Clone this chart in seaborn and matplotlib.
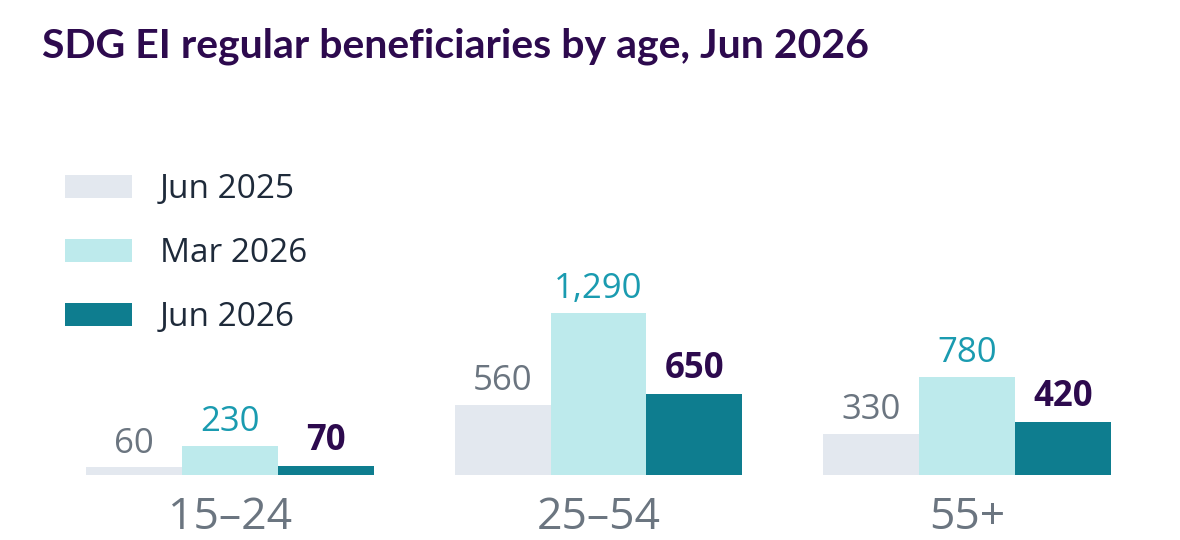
import pandas as pd
import matplotlib.pyplot as plt
import seaborn as sns

# data
age_groups = ['15–24', '25–54', '55+']
periods = ['Jun 2025', 'Mar 2026', 'Jun 2026']
jun_2025 = [60, 560, 330]
mar_2026 = [230, 1290, 780]
jun_2026 = [70, 650, 420]

df = pd.DataFrame({
    'age': age_groups * 3,
    'period': [p for p in periods for _ in age_groups],
    'value': jun_2025 + mar_2026 + jun_2026,
})

bar_colors = ['#e3e8ef', '#bdeaec', '#0e7d8f']
label_colors = ['#6b7580', '#1a9bb0', '#2d0a4e']
label_weights = ['normal', 'normal', 'bold']

sns.set_theme(style='white')
plt.rcParams['font.family'] = ['Open Sans', 'DejaVu Sans']

fig, ax = plt.subplots(figsize=(11.8, 5.4), dpi=100)
fig.subplots_adjust(left=0.0388, right=0.9756, bottom=0.1204, top=0.7704)

sns.barplot(data=df, x='age', y='value', hue='period', hue_order=periods,
            palette=bar_colors, saturation=1, width=0.78, gap=0,
            linewidth=0, ax=ax)

for cont, col, w in zip(ax.containers, label_colors, label_weights):
    ax.bar_label(cont, fmt='{:,.0f}', padding=5, fontsize=25,
                 color=col, fontweight=w)

ax.set_ylim(0, 2800)
ax.set_xlim(-0.5, 2.5)
sns.despine(ax=ax, left=True, bottom=True)
ax.set_yticks([])
ax.set_xlabel('')
ax.set_ylabel('')
ax.tick_params(axis='x', length=0, pad=15, labelsize=32, labelcolor='#6b7580')

handles, labels = ax.get_legend_handles_labels()
ax.legend(handles, labels, loc='upper left', bbox_to_anchor=(0.055, 0.680),
          bbox_transform=fig.transFigure, frameon=False, fontsize=24,
          labelcolor='#1e2a3a', handlelength=2.0, handleheight=0.69,
          handletextpad=0.84, labelspacing=0.93, borderpad=0, borderaxespad=0)

fig.text(0.036, 0.893, 'SDG EI regular beneficiaries by age, Jun 2026',
         fontsize=29.5, fontweight='bold', color='#2d0a4e',
         family=['Lato', 'DejaVu Sans'])

plt.savefig('out.png', dpi=100)
